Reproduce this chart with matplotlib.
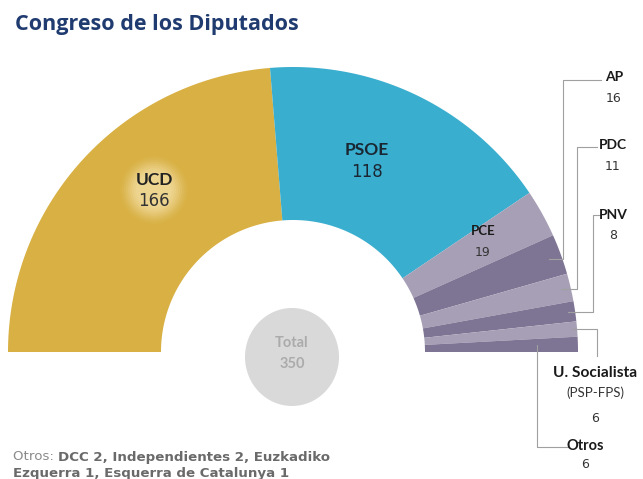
import numpy as np
import matplotlib
matplotlib.use('Agg')
import matplotlib.pyplot as plt
from matplotlib.patches import Polygon, Ellipse

# seats, Congreso 1977
parties = ['UCD', 'PSOE', 'PCE', 'AP', 'PDC', 'PNV', 'U. Socialista', 'Otros']
seats = [166, 118, 19, 16, 11, 8, 6, 6]
colors = ['#d8b043', '#3aaece', '#a79fb6', '#7e7594', '#a79fb6', '#7e7594',
          '#a79fb6', '#7e7594']
total = 350
otros_note = 'DCC 2, Independientes 2, Euzkadiko'
otros_note2 = 'Ezquerra 1, Esquerra de Catalunya 1'

# geometry in pixels
cx, cy = 293, 352
r_out, r_in = 285, 132


def sector(a0, a1, n=80):
    t = np.radians(np.linspace(a0, a1, n))
    xo = cx + r_out*np.cos(t)
    yo = cy - r_out*np.sin(t)
    xi = cx + r_in*np.cos(t[::-1])
    yi = cy - r_in*np.sin(t[::-1])
    return np.column_stack([np.r_[xo, xi], np.r_[yo, yi]])


def anchor(i, r):
    a0 = 180.0 - sum(seats[:i])/total*180.0
    a1 = a0 - seats[i]/total*180.0
    t = np.radians((a0 + a1)/2)
    return cx + r*np.cos(t), cy - r*np.sin(t)


my_dpi = 100
fig = plt.figure(figsize=(643/my_dpi, 479/my_dpi), dpi=my_dpi)
ax = fig.add_axes([0, 0, 1, 1])
ax.set_xlim(0, 643)
ax.set_ylim(479, 0)
ax.axis('off')

ang = 180.0
for p, s, c in zip(parties, seats, colors):
    a1 = ang - s/total*180.0
    ax.add_patch(Polygon(sector(ang, a1), closed=True, facecolor=c, edgecolor='none'))
    ang = a1

# glow behind UCD label
for r, al in zip(np.linspace(34, 18, 9), np.linspace(0.06, 0.3, 9)):
    ax.add_patch(Ellipse((154, 190), 2*r, 2*r, facecolor='#f3dea0', edgecolor='none', alpha=al))

lab_font = ['Lato', 'DejaVu Sans']
num_font = ['DejaVu Sans']

ax.text(15, 24, 'Congreso de los Diputados', fontsize=15.5, fontweight='bold',
        color='#1f3b6f', family=['Open Sans', 'DejaVu Sans'], va='center')

ax.text(154, 180, 'UCD', fontsize=12.5, fontweight='bold', color='#222222', family=lab_font, ha='center', va='center')
ax.text(154, 201, str(seats[0]), fontsize=12, color='#333333', family=num_font, ha='center', va='center')
ax.text(367, 150, 'PSOE', fontsize=12.5, fontweight='bold', color='#1a2733', family=lab_font, ha='center', va='center')
ax.text(367, 172, str(seats[1]), fontsize=12, color='#1a2733', family=num_font, ha='center', va='center')
ax.text(483, 231, 'PCE', fontsize=9.5, fontweight='bold', color='#1a1a1a', family=lab_font, ha='center', va='center')
ax.text(483, 253, str(seats[2]), fontsize=9, color='#333333', family=num_font, ha='center', va='center')

# total circle
ax.add_patch(Ellipse((292, 357), 94, 98, facecolor='#d9d9d9', edgecolor='none'))
ax.text(292, 343, 'Total', fontsize=10.5, fontweight='bold', color='#ababab', family=lab_font, ha='center', va='center')
ax.text(292, 364, str(total), fontsize=10.5, fontweight='bold', color='#ababab', family=lab_font, ha='center', va='center')

# right side labels with leader lines
lc = '#a0a0a0'
x, y = anchor(3, 272)
ax.plot([x, 563, 563, 601], [y, y, 80, 80], color=lc, lw=0.8)
x, y = anchor(4, 276)
ax.plot([x, 577, 577, 597], [y, y, 147, 147], color=lc, lw=0.8)
x, y = anchor(5, 278)
ax.plot([x, 593, 593, 601], [y, y, 215, 215], color=lc, lw=0.8)
x, y = anchor(6, 280)
ax.plot([x, 597, 597], [y, y, 356], color=lc, lw=0.8)
x, y = anchor(7, 244)
ax.plot([x, x, 568], [y, 447, 447], color=lc, lw=0.8)

ax.text(614, 77, 'AP', fontsize=10, fontweight='bold', color='#1a1a1a', family=lab_font, ha='center', va='center')
ax.text(614, 98, str(seats[3]), fontsize=9, color='#333333', family=num_font, ha='center', va='center')
ax.text(613, 145, 'PDC', fontsize=10, fontweight='bold', color='#1a1a1a', family=lab_font, ha='center', va='center')
ax.text(613, 167, str(seats[4]), fontsize=9, color='#333333', family=num_font, ha='center', va='center')
ax.text(613, 215, 'PNV', fontsize=10, fontweight='bold', color='#1a1a1a', family=lab_font, ha='center', va='center')
ax.text(613, 235, str(seats[5]), fontsize=9, color='#333333', family=num_font, ha='center', va='center')
ax.text(595, 373, 'U. Socialista', fontsize=11.2, fontweight='bold', color='#1a1a1a', family=lab_font, ha='center', va='center')
ax.text(595, 393, '(PSP-FPS)', fontsize=9.5, color='#333333', family=lab_font, ha='center', va='center')
ax.text(595, 418, str(seats[6]), fontsize=9, color='#333333', family=num_font, ha='center', va='center')
ax.text(585, 446, 'Otros', fontsize=10.5, fontweight='bold', color='#1a1a1a', family=lab_font, ha='center', va='center')
ax.text(585, 464, str(seats[7]), fontsize=9, color='#333333', family=num_font, ha='center', va='center')

# footnote
t = ax.text(13, 457, 'Otros: ', fontsize=9.6, color='#8a8a8a', family=num_font, va='center')
ax.annotate(otros_note, xycoords=t, xy=(1, 0.5), va='center', fontsize=9.6, fontweight='bold',
            color='#6a6a6a', family=num_font)
ax.text(13, 474, otros_note2, fontsize=9.6, fontweight='bold', color='#6a6a6a',
        family=num_font, va='center')

fig.savefig('out.png', dpi=my_dpi, facecolor='white')
